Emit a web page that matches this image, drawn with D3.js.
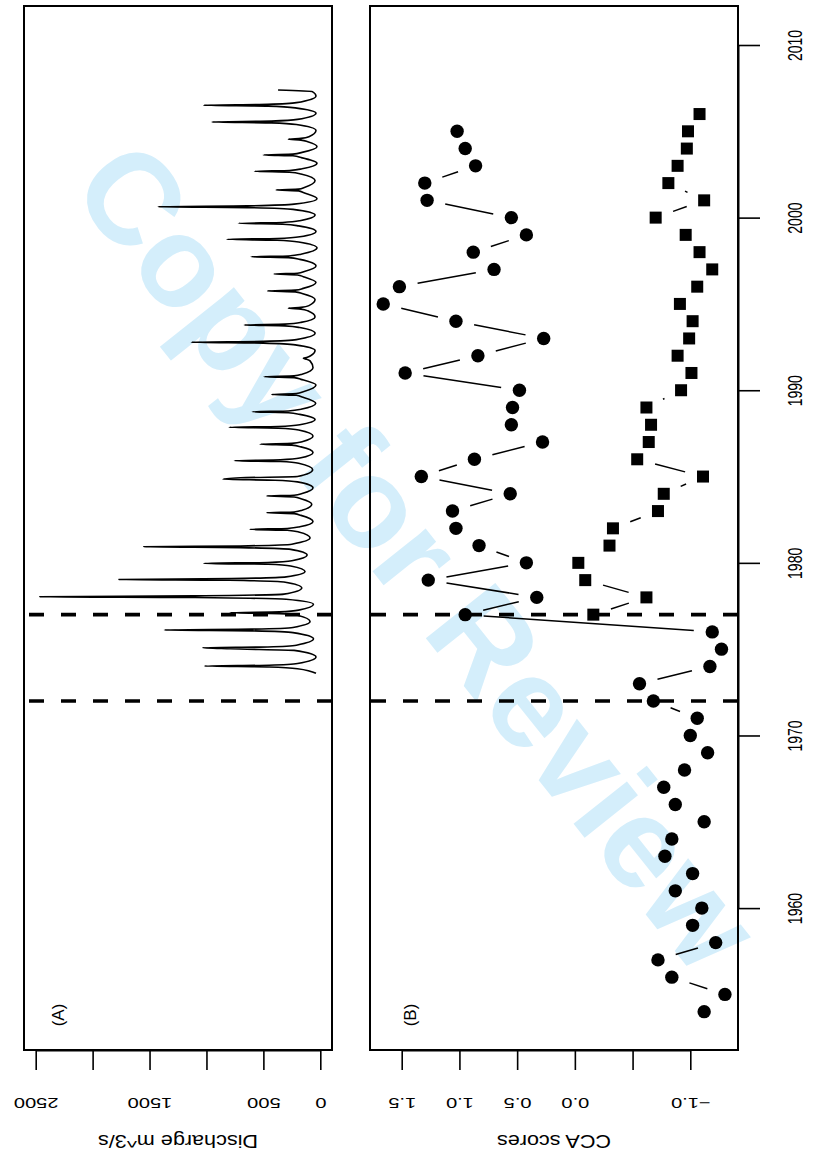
<!DOCTYPE html>
<html>
<head>
<meta charset="utf-8">
<script src="https://cdn.jsdelivr.net/npm/d3@7"></script>
<style>
  body { margin: 0; background: #fff; }
  svg text { font-family: "Liberation Sans", Arial, Helvetica, sans-serif; }
</style>
</head>
<body>
<svg id="chart" width="813" height="1159"></svg>
<script>
// Figure is an R plot turned 90 deg: time runs upward, values run to the left

// (A) discharge, m3/s (trough, rising limb, peak, falling limb)
const flowYear = [
  1973.60,
  1973.87, 1973.97, 1974.02, 1974.07, 1974.17, 1974.55,
  1974.93, 1975.02, 1975.08, 1975.13, 1975.23, 1975.60,
  1975.96, 1976.06, 1976.11, 1976.16, 1976.26, 1976.60,
  1976.96, 1977.06, 1977.11, 1977.16, 1977.26, 1977.60,
  1977.89, 1977.99, 1978.04, 1978.09, 1978.19, 1978.55,
  1978.89, 1978.99, 1979.04, 1979.09, 1979.19, 1979.50,
  1979.82, 1979.92, 1979.97, 1980.02, 1980.12, 1980.45,
  1980.78, 1980.88, 1980.93, 1980.98, 1981.08, 1981.45,
  1981.79, 1981.89, 1981.94, 1981.99, 1982.09, 1982.40,
  1982.75, 1982.85, 1982.90, 1982.95, 1983.05, 1983.40,
  1983.72, 1983.82, 1983.87, 1983.92, 1984.02, 1984.35,
  1984.69, 1984.79, 1984.84, 1984.93, 1985.00, 1985.40,
  1985.77, 1985.87, 1985.92, 1985.97, 1986.07, 1986.40,
  1986.72, 1986.82, 1986.87, 1986.92, 1987.02, 1987.35,
  1987.70, 1987.80, 1987.85, 1987.90, 1988.00, 1988.30,
  1988.60, 1988.70, 1988.75, 1988.80, 1988.90, 1989.25,
  1989.61, 1989.71, 1989.76, 1989.81, 1989.91, 1990.30,
  1990.63, 1990.73, 1990.78, 1990.83, 1990.93, 1991.30,
  1991.70, 1991.80, 1991.85, 1991.90, 1992.00, 1992.30,
  1992.63, 1992.73, 1992.78, 1992.83, 1992.93, 1993.30,
  1993.63, 1993.73, 1993.78, 1993.83, 1993.93, 1994.25,
  1994.60, 1994.70, 1994.75, 1994.80, 1994.90, 1995.25,
  1995.60, 1995.70, 1995.75, 1995.80, 1995.90, 1996.25,
  1996.58, 1996.68, 1996.73, 1996.78, 1996.88, 1997.20,
  1997.58, 1997.68, 1997.73, 1997.78, 1997.88, 1998.25,
  1998.59, 1998.69, 1998.74, 1998.79, 1998.89, 1999.20,
  1999.52, 1999.62, 1999.67, 1999.72, 1999.82, 2000.15,
  2000.48, 2000.58, 2000.63, 2000.68, 2000.78, 2001.10,
  2001.45, 2001.55, 2001.60, 2001.65, 2001.75, 2002.15,
  2002.53, 2002.63, 2002.68, 2002.73, 2002.83, 2003.15,
  2003.48, 2003.58, 2003.63, 2003.68, 2003.78, 2004.10,
  2004.39, 2004.49, 2004.54, 2004.59, 2004.69, 2005.05,
  2005.39, 2005.49, 2005.54, 2005.59, 2005.69, 2006.05,
  2006.36, 2006.46, 2006.51, 2006.56, 2006.66, 2007.05,
  2007.30, 2007.39
];
const flowQ = [
  38,
  200, 450, 1017, 450, 200, 38,
  230, 790, 1034, 460, 210, 60,
  240, 600, 1370, 600, 240, 90,
  200, 360, 791, 360, 190, 60,
  300, 1100, 2465, 1100, 320, 163,
  320, 800, 1770, 780, 300, 134,
  260, 460, 1022, 460, 250, 116,
  260, 700, 1551, 700, 250, 90,
  190, 290, 622, 290, 180, 64,
  170, 230, 470, 230, 160, 75,
  170, 230, 470, 230, 160, 64,
  200, 400, 855, 700, 200, 67,
  190, 350, 754, 350, 180, 64,
  170, 250, 528, 250, 160, 64,
  190, 370, 800, 370, 180, 46,
  180, 280, 596, 280, 170, 40,
  160, 210, 426, 210, 150, 38,
  170, 230, 493, 230, 160, 64,
  90, 120, 149, 120, 85, 46,
  220, 500, 1133, 500, 210, 46,
  180, 310, 669, 310, 170, 46,
  110, 170, 280, 170, 100, 46,
  160, 220, 464, 220, 150, 38,
  150, 200, 406, 200, 140, 38,
  180, 280, 607, 280, 170, 29,
  190, 380, 820, 380, 180, 38,
  190, 330, 719, 330, 180, 46,
  240, 640, 1425, 640, 230, 29,
  150, 190, 388, 190, 140, 46,
  170, 270, 578, 270, 160, 29,
  170, 240, 500, 240, 160, 29,
  110, 170, 280, 170, 100, 38,
  210, 430, 952, 430, 200, 38,
  220, 460, 1025, 460, 210, 38,
  70, 371
];

// (B) CCA scores, circles
const circleYear = [1954, 1955, 1956, 1957, 1958, 1959, 1960, 1961, 1962, 1963,
  1964, 1965, 1966, 1967, 1968, 1969, 1970, 1971, 1972, 1973,
  1974, 1975, 1976, 1977, 1978, 1979, 1980, 1981, 1982, 1983,
  1984, 1985, 1986, 1987, 1988, 1989, 1990, 1991, 1992, 1993,
  1994, 1995, 1996, 1997, 1998, 1999, 2000, 2001, 2002, 2003,
  2004, 2005];
const circleScore = [-1.12, -1.30, -0.84, -0.72, -1.22, -1.02, -1.10, -0.87, -1.02, -0.78,
  -0.84, -1.12, -0.87, -0.77, -0.95, -1.15, -1.00, -1.06, -0.68, -0.56,
  -1.17, -1.27, -1.19, 0.95, 0.33, 1.27, 0.42, 0.83, 1.03, 1.06,
  0.56, 1.33, 0.87, 0.28, 0.55, 0.54, 0.48, 1.47, 0.84, 0.27,
  1.03, 1.66, 1.52, 0.70, 0.88, 0.42, 0.55, 1.28, 1.30, 0.86,
  0.95, 1.02];

// (B) CCA scores, squares
const squareYear = [1977, 1978, 1979, 1980, 1981, 1982, 1983, 1984, 1985, 1986,
  1987, 1988, 1989, 1990, 1991, 1992, 1993, 1994, 1995, 1996,
  1997, 1998, 1999, 2000, 2001, 2002, 2003, 2004, 2005, 2006];
const squareScore = [-0.16, -0.62, -0.09, -0.03, -0.30, -0.33, -0.72, -0.77, -1.11, -0.54,
  -0.64, -0.66, -0.62, -0.92, -1.01, -0.89, -0.99, -1.02, -0.91, -1.06,
  -1.19, -1.08, -0.96, -0.70, -1.12, -0.81, -0.89, -0.97, -0.98, -1.08];

const breakYears = [1972, 1977];

const yearTicks = [1960, 1970, 1980, 1990, 2000, 2010];
const flowTicks = [0, 500, 1000, 1500, 2000, 2500];
const flowTickLabels = ["0", "500", "", "1500", "", "2500"];
const scoreTicks = [-1.0, -0.5, 0.0, 0.5, 1.0, 1.5];
const scoreTickLabels = ["\u22121.0", "", "0.0", "0.5", "1.0", "1.5"];

const panelA = {left: 24, right: 332, top: 6, bottom: 1050};
const panelB = {left: 370, right: 738, top: 6, bottom: 1050};

const svg = d3.select("#chart");

const yearY = d3.scaleLinear().domain([1960, 2010]).range([908.1, 45]);
const flowX = d3.scaleLinear().domain([0, 2500]).range([320.3, 35.7]);
const scoreX = d3.scaleLinear().domain([-1, 1.5]).range([690.3, 401.7]);

// watermark
svg.append("text")
    .attr("transform", "translate(418,556) rotate(51.5)")
    .attr("text-anchor", "middle")
    .attr("dominant-baseline", "central")
    .attr("font-size", 129)
    .attr("font-weight", "bold")
    .attr("fill", "#d4eefb")
    .text("Copy for Review");

// panel boxes
[panelA, panelB].forEach(p => {
    svg.append("rect")
        .attr("x", p.left).attr("y", p.top)
        .attr("width", p.right - p.left).attr("height", p.bottom - p.top)
        .attr("fill", "none").attr("stroke", "#000").attr("stroke-width", 2);
});

// dashed break lines in both panels, drawn from the value-axis side
[panelA, panelB].forEach(p => {
    svg.append("g").selectAll("line")
        .data(breakYears)
        .join("line")
        .attr("x1", p.right).attr("x2", p.left)
        .attr("y1", d => yearY(d)).attr("y2", d => yearY(d))
        .attr("stroke", "#000").attr("stroke-width", 3.6)
        .attr("stroke-dasharray", "15,17");
});

// hydrograph
const flowLine = d3.line()
    .x((d, i) => flowX(flowQ[i]))
    .y((d, i) => yearY(flowYear[i]))
    .curve(d3.curveMonotoneY);

svg.append("path")
    .attr("d", flowLine(flowYear))
    .attr("fill", "none")
    .attr("stroke", "#000")
    .attr("stroke-width", 1.6)
    .attr("stroke-linejoin", "round");

// R type="b": segments between points, with a gap round each point
function gapSegments(years, scores, gap) {
    let segs = [];
    for (let i = 1; i < years.length; i++) {
        let x1 = scoreX(scores[i - 1]), y1 = yearY(years[i - 1]);
        let x2 = scoreX(scores[i]), y2 = yearY(years[i]);
        let dx = x2 - x1, dy = y2 - y1, len = Math.hypot(dx, dy);
        if (len <= 2 * gap) continue;
        let ux = dx / len, uy = dy / len;
        segs.push([x1 + ux * gap, y1 + uy * gap, x2 - ux * gap, y2 - uy * gap]);
    }
    return segs;
}

const segs = gapSegments(circleYear, circleScore, 18.5)
    .concat(gapSegments(squareYear, squareScore, 18.5));

svg.append("g").selectAll("line")
    .data(segs)
    .join("line")
    .attr("x1", d => d[0]).attr("y1", d => d[1])
    .attr("x2", d => d[2]).attr("y2", d => d[3])
    .attr("stroke", "#000").attr("stroke-width", 1.5);

svg.append("g").selectAll("circle")
    .data(circleYear)
    .join("circle")
    .attr("cx", (d, i) => scoreX(circleScore[i]))
    .attr("cy", d => yearY(d))
    .attr("r", 6.7)
    .attr("fill", "#000");

svg.append("g").selectAll("rect")
    .data(squareYear)
    .join("rect")
    .attr("x", (d, i) => scoreX(squareScore[i]) - 6)
    .attr("y", d => yearY(d) - 6)
    .attr("width", 12).attr("height", 12)
    .attr("fill", "#000");

// axes
function styleAxis(g, labelTransform, size) {
    g.select(".domain").attr("stroke-width", 2);
    g.selectAll(".tick line").attr("stroke-width", 1.6);
    g.selectAll(".tick text")
        .attr("x", null).attr("y", null).attr("dy", null)
        .attr("transform", labelTransform)
        .attr("text-anchor", "middle")
        .attr("dominant-baseline", "central")
        .attr("font-size", size)
        .attr("font-family", "'Liberation Sans', Arial, Helvetica, sans-serif")
        .attr("fill", "#000");
}

svg.append("g")
    .attr("transform", `translate(${panelB.right},0)`)
    .call(d3.axisRight(yearY).tickValues(yearTicks).tickFormat(d3.format("d"))
        .tickSize(22).tickSizeOuter(0))
    .call(g => styleAxis(g, "translate(58,0) scale(1.4,1) rotate(-90)", 14));

svg.append("g")
    .attr("transform", `translate(0,${panelA.bottom})`)
    .call(d3.axisBottom(flowX).tickValues(flowTicks)
        .tickFormat((d, i) => flowTickLabels[i]).tickSize(20).tickSizeOuter(0))
    .call(g => styleAxis(g, "translate(0,53) scale(1.34,1) rotate(180)", 15));

svg.append("g")
    .attr("transform", `translate(0,${panelB.bottom})`)
    .call(d3.axisBottom(scoreX).tickValues(scoreTicks)
        .tickFormat((d, i) => scoreTickLabels[i]).tickSize(20).tickSizeOuter(0))
    .call(g => styleAxis(g, "translate(0,53) scale(1.34,1) rotate(180)", 15));

// axis titles (upside down, as in the source)
svg.append("text")
    .attr("transform", `translate(${(panelA.left + panelA.right) / 2},1141) scale(1.2,1) rotate(180)`)
    .attr("text-anchor", "middle").attr("dominant-baseline", "central")
    .attr("font-size", 18)
    .text("Discharge m^3/s");

svg.append("text")
    .attr("transform", `translate(${(panelB.left + panelB.right) / 2},1141) scale(1.2,1) rotate(180)`)
    .attr("text-anchor", "middle").attr("dominant-baseline", "central")
    .attr("font-size", 18)
    .text("CCA scores");

// panel letters
[["(A)", panelA.left + 34], ["(B)", panelB.left + 40]].forEach(([lab, x]) => {
    svg.append("text")
        .attr("transform", `translate(${x},1015) rotate(-90)`)
        .attr("text-anchor", "middle").attr("dominant-baseline", "central")
        .attr("font-size", 17)
        .text(lab);
});
</script>
</body>
</html>
